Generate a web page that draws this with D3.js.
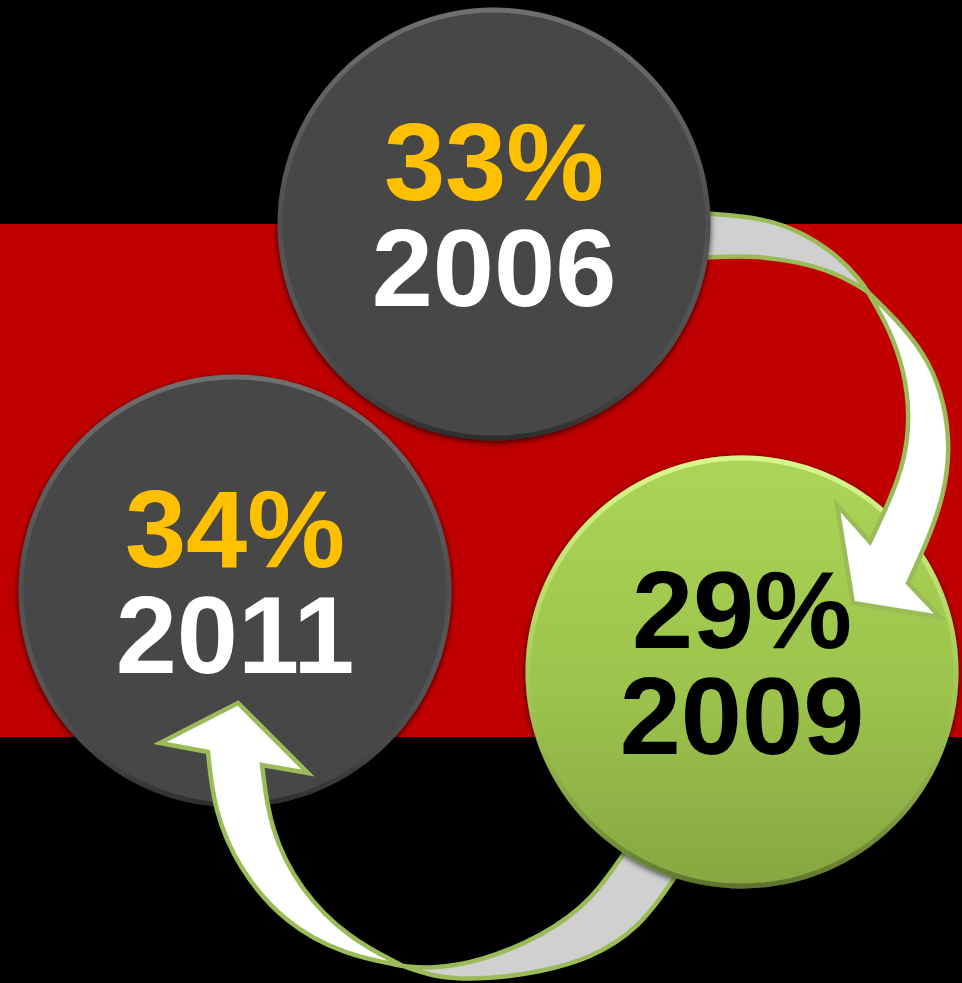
<!DOCTYPE html>
<html>
<head>
<meta charset="utf-8">
<script src="https://cdn.jsdelivr.net/npm/d3@7"></script>
<style>
  html, body { margin: 0; padding: 0; background: #000; }
  svg { display: block; }
</style>
</head>
<body>
<div id="vis"></div>
<script>
// data
const years = ["2006", "2009", "2011"];
const shares = [33, 29, 34];

const width = 962, height = 983;

// layout (circle centres, band, arrows) – decoration only
const radius = 216.5;
const centres = {"2006": [494, 224], "2009": [742, 672], "2011": [235, 591]};
const band = {top: 224, bottom: 737};

const svg = d3.select("#vis").append("svg")
    .attr("width", width)
    .attr("height", height);

const defs = svg.append("defs");

const shadow = defs.append("filter").attr("id", "shadow")
    .attr("x", "-20%").attr("y", "-20%").attr("width", "140%").attr("height", "140%");
shadow.append("feDropShadow")
    .attr("dx", 0).attr("dy", 2).attr("stdDeviation", 3)
    .attr("flood-color", "#000").attr("flood-opacity", 0.7);

const greenGrad = defs.append("linearGradient").attr("id", "greenFill")
    .attr("x1", 0).attr("y1", 0).attr("x2", 0).attr("y2", 1);
greenGrad.append("stop").attr("offset", "0%").attr("stop-color", "#abd556");
greenGrad.append("stop").attr("offset", "55%").attr("stop-color", "#9cc34c");
greenGrad.append("stop").attr("offset", "100%").attr("stop-color", "#86a641");

const rim = defs.append("linearGradient").attr("id", "rim")
    .attr("x1", 0).attr("y1", 0).attr("x2", 0).attr("y2", 1);
rim.append("stop").attr("offset", "0%").attr("stop-color", "#fff").attr("stop-opacity", 0.22);
rim.append("stop").attr("offset", "50%").attr("stop-color", "#fff").attr("stop-opacity", 0.04);
rim.append("stop").attr("offset", "100%").attr("stop-color", "#000").attr("stop-opacity", 0.35);

const rimGreen = defs.append("linearGradient").attr("id", "rimGreen")
    .attr("x1", 0).attr("y1", 0).attr("x2", 0).attr("y2", 1);
rimGreen.append("stop").attr("offset", "0%").attr("stop-color", "#e4ff9a").attr("stop-opacity", 0.8);
rimGreen.append("stop").attr("offset", "50%").attr("stop-color", "#e4ff9a").attr("stop-opacity", 0.1);
rimGreen.append("stop").attr("offset", "100%").attr("stop-color", "#000").attr("stop-opacity", 0.3);

// background + red band
svg.append("rect").attr("width", width).attr("height", height).attr("fill", "#000");
svg.append("rect")
    .attr("x", 0).attr("y", band.top)
    .attr("width", width).attr("height", band.bottom - band.top)
    .attr("fill", "#c00000");

// lowest share gets the green highlight
const best = d3.min(shares);
const fill = d3.scaleOrdinal().domain([true, false]).range(["url(#greenFill)", "#474747"]);
const pctColor = d3.scaleOrdinal().domain([true, false]).range(["#000000", "#ffc000"]);
const yearColor = d3.scaleOrdinal().domain([true, false]).range(["#000000", "#ffffff"]);

const rows = years.map((y, i) => ({year: y, share: shares[i], hi: shares[i] === best}));

// arrows (curved ribbon: grey back side, then white front + head)
const arrows = [
  { // 2006 -> 2009
    tailA: [[700,213],[767,218],[805,234],[838,256],[860,280],[868,292]],
    tailB: [[700,258],[750,255],[800,262],[835,273],[857,285],[868,292]],
    outer: [[868,292],[902,325],[930,362],[945,405],[950,450],[944,495],[928,540],[908,583]],
    head: [[940,617],[853,603],[837,505]],
    inner: [[870,542],[890,500],[905,460],[910,415],[904,370],[890,330],[868,292]]
  },
  { // 2009 -> 2011
    tailA: [[640,830],[623,855],[592,900],[545,935],[480,962],[430,969],[403,966]],
    tailB: [[690,855],[673,880],[640,928],[590,959],[540,972],[490,979],[440,979],[403,966]],
    outer: [[403,966],[345,955],[285,924],[238,868],[214,810],[208,752]],
    head: [[160,743],[238,703],[308,773]],
    inner: [[262,765],[270,830],[300,890],[348,938],[403,966]]
  }
];

const edge = d3.line().curve(d3.curveBasis);

function tailPath(a) {
  return edge(a.tailA) + "L" + edge(a.tailB.slice().reverse()).slice(1) + "Z";
}
function bodyPath(a) {
  return edge(a.outer)
    + a.head.map(p => "L" + p[0] + "," + p[1]).join("")
    + "L" + edge(a.inner).slice(1) + "Z";
}

function drawArrow(a) {
  const g = svg.append("g").attr("class", "arrow");
  g.append("path").attr("d", tailPath(a))
      .attr("fill", "#d0d0d0").attr("stroke", "#9bbb59")
      .attr("stroke-width", 4.5).attr("stroke-linejoin", "round");
  g.append("path").attr("d", bodyPath(a))
      .attr("fill", "#ffffff").attr("stroke", "#9bbb59")
      .attr("stroke-width", 4.5).attr("stroke-linejoin", "miter");
}

function drawCircle(d) {
  const [cx, cy] = centres[d.year];
  const g = svg.append("g").attr("class", "bubble")
      .attr("transform", `translate(${cx},${cy})`);
  g.append("circle").attr("r", radius)
      .attr("fill", fill(d.hi))
      .attr("filter", "url(#shadow)");
  g.append("circle").attr("r", radius - 2.5)
      .attr("fill", "none")
      .attr("stroke", d.hi ? "url(#rimGreen)" : "url(#rim)")
      .attr("stroke-width", 5);
  g.append("text")
      .attr("y", -24)
      .attr("text-anchor", "middle")
      .attr("font-family", "'Liberation Sans', Arial, sans-serif")
      .attr("font-weight", "bold")
      .attr("font-size", 110)
      .attr("fill", pctColor(d.hi))
      .text(d.share + "%");
  g.append("text")
      .attr("y", 82)
      .attr("text-anchor", "middle")
      .attr("font-family", "'Liberation Sans', Arial, sans-serif")
      .attr("font-weight", "bold")
      .attr("font-size", 110)
      .attr("fill", yearColor(d.hi))
      .text(d.year);
}

const byYear = Object.fromEntries(rows.map(d => [d.year, d]));

// stacking: 2011, arrow 2, 2009, arrow 1, 2006
drawCircle(byYear["2011"]);
drawArrow(arrows[1]);
drawCircle(byYear["2009"]);
drawArrow(arrows[0]);
drawCircle(byYear["2006"]);
</script>
</body>
</html>
